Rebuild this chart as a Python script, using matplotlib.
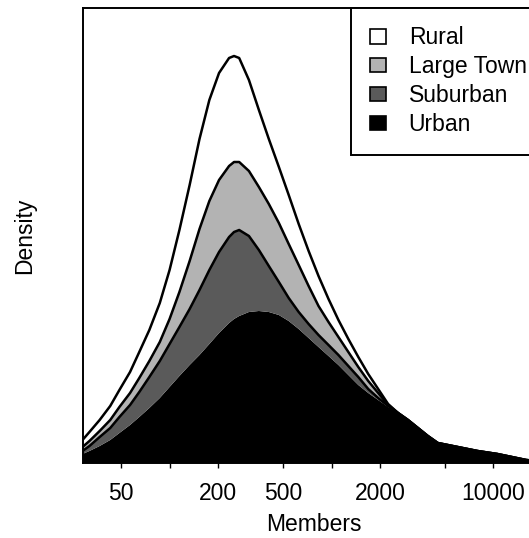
import numpy as np
import matplotlib
matplotlib.use('Agg')
import matplotlib.pyplot as plt
from matplotlib.patches import Patch
from matplotlib.ticker import NullLocator

plt.rcParams['font.family'] = ['Liberation Sans', 'DejaVu Sans']

# members (log scale) and density of each group
members = [29, 32, 37, 43, 49, 57, 65, 75, 87, 100,
           115, 133, 153, 176, 202, 233, 250, 269, 309, 356,
           410, 473, 544, 627, 722, 831, 958, 1103, 1270, 1463,
           1685, 1941, 2235, 2575, 2965, 3415, 3933, 4530, 6008, 7970,
           10570, 15925, 21420]
urban = [0.009, 0.012, 0.017, 0.023, 0.030, 0.038, 0.046, 0.055, 0.065, 0.076,
         0.087, 0.098, 0.108, 0.119, 0.130, 0.140, 0.144, 0.147, 0.151, 0.152,
         0.151, 0.148, 0.142, 0.134, 0.125, 0.116, 0.107, 0.098, 0.088, 0.078,
         0.070, 0.063, 0.056, 0.050, 0.043, 0.035, 0.027, 0.020, 0.016, 0.012,
         0.009, 0.003, 0.001]
suburban = [0.003, 0.005, 0.009, 0.012, 0.016, 0.020, 0.025, 0.031, 0.037, 0.043,
            0.049, 0.056, 0.065, 0.074, 0.081, 0.086, 0.087, 0.086, 0.076, 0.061,
            0.046, 0.033, 0.023, 0.017, 0.014, 0.012, 0.011, 0.010, 0.009, 0.008,
            0.004, 0.002, 0.001, 0, 0, 0, 0, 0, 0, 0,
            0, 0, 0]
large_town = [0.004, 0.005, 0.006, 0.008, 0.010, 0.012, 0.014, 0.016, 0.019, 0.025,
              0.035, 0.048, 0.061, 0.069, 0.072, 0.071, 0.070, 0.068, 0.065, 0.063,
              0.062, 0.059, 0.054, 0.047, 0.038, 0.029, 0.023, 0.018, 0.014, 0.010,
              0.008, 0.005, 0.001, 0, 0, 0, 0, 0, 0, 0,
              0, 0, 0]
rural = [0.007, 0.009, 0.011, 0.014, 0.017, 0.021, 0.026, 0.031, 0.039, 0.049,
         0.062, 0.076, 0.090, 0.101, 0.107, 0.108, 0.106, 0.104, 0.091, 0.077,
         0.065, 0.056, 0.049, 0.041, 0.035, 0.030, 0.023, 0.017, 0.013, 0.010,
         0.007, 0.004, 0.001, 0, 0, 0, 0, 0, 0, 0,
         0, 0, 0]

groups = ['Rural', 'Large Town', 'Suburban', 'Urban']
colors = ['white', '#b3b3b3', '#5a5a5a', 'black']
tick_vals = [50, 100, 200, 500, 1000, 2000, 5000, 10000]
tick_labels = ['50', '', '200', '500', '', '2000', '', '10000']

x = np.array(members)
# stack from the bottom: urban, suburban, large town, rural
layers = np.array([urban, suburban, large_town, rural])
tops = np.cumsum(layers, axis=0)
fill_cols = colors[::-1]

fig = plt.figure(figsize=(5.29, 5.38), dpi=100)
ax = fig.add_axes([83/529, 75/538, 462/529, 455/538])

base = np.zeros(len(x))
for i in range(4):
    ax.fill_between(x, base, tops[i], facecolor=fill_cols[i], edgecolor='none', lw=0)
    base = tops[i]
for i in range(1, 4):
    ax.plot(x, tops[i], color='black', lw=1.8, solid_joinstyle='round')

ax.set_xscale('log')
ax.set_xlim(29.2, 20800)
ax.set_ylim(0, 0.455)
ax.set_xticks(tick_vals)
ax.set_xticklabels(tick_labels)
ax.xaxis.set_minor_locator(NullLocator())
ax.set_yticks([])
ax.tick_params(axis='x', direction='out', length=3.6, width=1, labelsize=16.5, pad=10)
ax.set_xlabel('Members', fontsize=16.5, labelpad=6)
ax.set_ylabel('Density', fontsize=16.5, labelpad=34)
for s in ax.spines.values():
    s.set_linewidth(1.4)

handles = [Patch(facecolor=c, edgecolor='black', lw=1.2) for c in colors]
leg = ax.legend(handles, groups, loc='upper right', borderaxespad=0, fancybox=False,
                edgecolor='black', framealpha=1, fontsize=16.5, handlelength=0.7,
                handleheight=0.6, handletextpad=1.0, labelspacing=0.26, borderpad=0.8)
leg.get_frame().set_linewidth(1.4)

fig.savefig('out.png', dpi=100)
